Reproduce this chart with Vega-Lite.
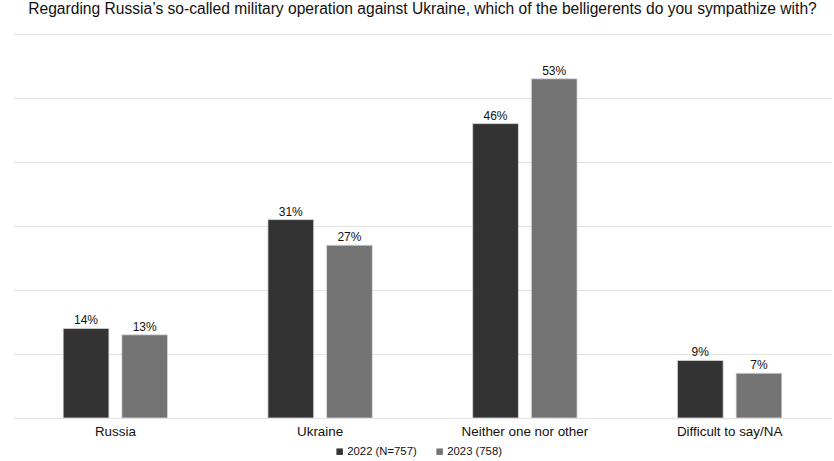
{
  "$schema": "https://vega.github.io/schema/vega-lite/v6.json",
  "width": 819,
  "height": 384,
  "autosize": {"type": "none"},
  "padding": {"left": 13, "top": 34, "right": 2, "bottom": 43},
  "background": "white",
  "title": {
    "text": "Regarding Russia’s so-called military operation against Ukraine, which of the belligerents do you sympathize with?",
    "font": "Liberation Sans",
    "fontSize": 15.6,
    "fontWeight": "normal",
    "color": "#111111",
    "anchor": "middle",
    "offset": 16
  },
  "data": {
    "values": [
      {"category": "Russia", "year": "2022 (N=757)", "value": 0.14},
      {"category": "Russia", "year": "2023 (758)", "value": 0.13},
      {"category": "Ukraine", "year": "2022 (N=757)", "value": 0.31},
      {"category": "Ukraine", "year": "2023 (758)", "value": 0.27},
      {"category": "Neither one nor other", "year": "2022 (N=757)", "value": 0.46},
      {"category": "Neither one nor other", "year": "2023 (758)", "value": 0.53},
      {"category": "Difficult to say/NA", "year": "2022 (N=757)", "value": 0.09},
      {"category": "Difficult to say/NA", "year": "2023 (758)", "value": 0.07}
    ]
  },
  "encoding": {
    "x": {
      "field": "category",
      "type": "nominal",
      "sort": null,
      "scale": {"paddingInner": 0.49, "paddingOuter": 0.245},
      "axis": {
        "title": null,
        "labelAngle": 0,
        "labelFont": "Liberation Sans",
        "labelFontSize": 13.4,
        "labelColor": "#111111",
        "ticks": false,
        "domain": false,
        "labelPadding": 6
      }
    },
    "xOffset": {
      "field": "year",
      "type": "nominal",
      "scale": {"paddingInner": 0.22}
    },
    "y": {
      "field": "value",
      "type": "quantitative",
      "scale": {"domain": [0, 0.6]},
      "axis": {
        "title": null,
        "labels": false,
        "ticks": false,
        "domain": false,
        "tickCount": 6,
        "gridColor": "#e3e3e3",
        "gridWidth": 1
      }
    }
  },
  "layer": [
    {
      "mark": {"type": "bar", "stroke": "#dddddd", "strokeWidth": 0.8},
      "encoding": {
        "color": {
          "field": "year",
          "type": "nominal",
          "scale": {"range": ["#333333", "#737373"]},
          "legend": {
            "title": null,
            "orient": "none",
            "legendX": 321,
            "legendY": 412,
            "direction": "horizontal",
            "symbolType": "square",
            "symbolSize": 42,
            "symbolStrokeWidth": 0,
            "labelFont": "Liberation Sans",
            "labelFontSize": 11.3,
            "labelColor": "#111111",
            "labelOffset": 2,
            "columnPadding": 17
          }
        }
      }
    },
    {
      "mark": {"type": "text", "dy": -8, "font": "Liberation Sans", "fontSize": 12, "color": "#111111"},
      "encoding": {
        "text": {"field": "value", "type": "quantitative", "format": ".0%"},
        "detail": {"field": "year"}
      }
    }
  ],
  "config": {
    "view": {"stroke": null}
  }
}
